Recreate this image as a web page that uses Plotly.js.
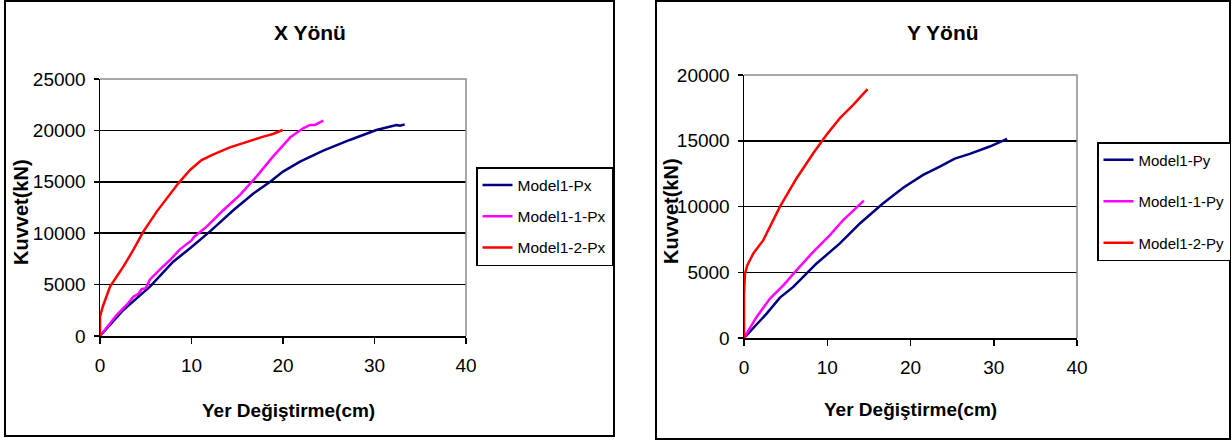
<!DOCTYPE html>
<html>
<head>
<meta charset="utf-8">
<script src="https://cdn.plot.ly/plotly-3.0.1.min.js"></script>
<style>
  html, body { margin: 0; padding: 0; background: #fff; overflow: hidden; }
  #chart { width: 1232px; height: 441px; }
</style>
</head>
<body>
<div id="chart"></div>
<script>
// Kuvvet - yer değiştirme eğrileri (X ve Y yönü)
const seriesNames = ['Model1-Px', 'Model1-1-Px', 'Model1-2-Px'];
const seriesNamesY = ['Model1-Py', 'Model1-1-Py', 'Model1-2-Py'];
const seriesColors = ['#000080', '#FF00FF', '#FF0000'];

// X yönü
const pxDisp = [0, 2.55, 5.46, 8.0, 9.84, 12.0, 14.6, 16.8, 18.6, 20.0, 21.86, 24.4, 27.3, 30.2, 32.4, 32.8, 33.3];
const pxForce = [0, 2530, 4800, 7230, 8530, 10150, 12260, 13880, 15010, 15990, 16960, 18030, 19070, 20040, 20530, 20450, 20590];

const px1Disp = [0, 1.82, 2.91, 3.3, 3.64, 4.2, 4.55, 5.0, 5.46, 6.56, 7.65, 8.74, 10.0, 10.3, 11.66, 13.5, 15.3, 17.1, 18.9, 20.8, 22.2, 22.95, 23.5, 24.4];
const px1Force = [0, 2040, 3020, 3500, 3830, 4100, 4570, 4650, 5510, 6490, 7390, 8430, 9300, 9660, 10640, 12260, 13720, 15500, 17450, 19330, 20200, 20530, 20530, 20950];

const px2Disp = [0, 0, 0.3, 1.1, 2.55, 3.64, 4.74, 6.2, 8.56, 9.84, 11.1, 12.4, 14.2, 16.0, 17.85, 18.9, 19.96];
const px2Force = [0, 1880, 2850, 4800, 6750, 8370, 10150, 12100, 14850, 16150, 17120, 17670, 18350, 18900, 19390, 19650, 20040];

// Y yönü
const pyDisp = [0, 2.72, 4.32, 5.92, 8.72, 11.52, 13.92, 16.72, 19.12, 21.52, 23.52, 25.32, 27.12, 29.52, 31.6];
const pyForce = [0, 1850, 3070, 3890, 5670, 7190, 8710, 10240, 11430, 12400, 13030, 13640, 14000, 14560, 15140];

const py1Disp = [0, 1.52, 3.12, 4.72, 6.32, 8.32, 10.32, 11.92, 14.4];
const py1Force = [0, 1600, 3000, 4010, 5160, 6550, 7820, 8970, 10440];

const py2Disp = [0, 0, 0.12, 0.4, 1.12, 2.32, 4.32, 6.32, 8.32, 9.92, 11.52, 13.12, 14.84];
const py2Force = [0, 3380, 4900, 5540, 6430, 7440, 9990, 12150, 14050, 15450, 16720, 17730, 18930];

const xTicks = [0, 10, 20, 30, 40];
const yTicksX = [0, 5000, 10000, 15000, 20000, 25000];
const yTicksY = [0, 5000, 10000, 15000, 20000];

const W = 1232, H = 441;
const px = v => v / W;          // pixel -> paper x
const py = v => 1 - v / H;      // pixel -> paper y

const FONT = '"Liberation Sans", Arial, sans-serif';

function line(x, y, i, names, xa, ya, legend) {
  return {
    type: 'scatter', mode: 'lines', x: x, y: y,
    name: names[i], xaxis: xa, yaxis: ya, legend: legend,
    legendgroup: legend + i,
    line: { color: seriesColors[i], width: 2.5 }
  };
}

const traces = [
  line(pxDisp, pxForce, 0, seriesNames, 'x', 'y', 'legend'),
  line(px1Disp, px1Force, 1, seriesNames, 'x', 'y', 'legend'),
  line(px2Disp, px2Force, 2, seriesNames, 'x', 'y', 'legend'),
  line(pyDisp, pyForce, 0, seriesNamesY, 'x2', 'y2', 'legend2'),
  line(py1Disp, py1Force, 1, seriesNamesY, 'x2', 'y2', 'legend2'),
  line(py2Disp, py2Force, 2, seriesNamesY, 'x2', 'y2', 'legend2')
];

// plot areas in pixels
const L = { x0: 100, x1: 466, y0: 336, y1: 79 };
const R = { x0: 744, x1: 1077, y0: 338, y1: 75 };

function xAxis(box, anchor) {
  return {
    domain: [px(box.x0), px(box.x1)], anchor: anchor,
    range: [0, 40], tickvals: xTicks, ticktext: xTicks.map(String),
    showgrid: false, zeroline: false,
    showline: true, linecolor: '#000', linewidth: 1.5,
    ticks: 'outside', ticklen: 6, tickcolor: '#000', tickwidth: 1.5,
    ticklabelstandoff: 6,
    tickfont: { family: FONT, size: 19, color: '#000' }
  };
}
function yAxis(box, anchor, maxV, vals) {
  return {
    domain: [py(box.y0), py(box.y1)], anchor: anchor,
    range: [0, maxV], tickvals: vals, ticktext: vals.map(String),
    showgrid: true, gridcolor: '#000', gridwidth: 1.5,
    zeroline: false,
    showline: true, linecolor: '#000', linewidth: 1.5,
    ticks: 'outside', ticklen: 5, tickcolor: '#000', tickwidth: 1.5,
    ticklabelstandoff: 4,
    tickfont: { family: FONT, size: 19, color: '#000' }
  };
}

function frame(box) {
  // grey top and right edges of the plot area
  return {
    type: 'path', xref: 'paper', yref: 'paper', layer: 'above',
    path: `M${px(box.x0)},${py(box.y1)} L${px(box.x1)},${py(box.y1)} L${px(box.x1)},${py(box.y0)}`,
    line: { color: '#8c8c8c', width: 1.5 }
  };
}
function panel(x0, y0, x1, y1) {
  return {
    type: 'rect', xref: 'paper', yref: 'paper', layer: 'above',
    x0: px(x0), x1: px(x1), y0: py(y1), y1: py(y0),
    line: { color: '#000', width: 2 }, fillcolor: 'rgba(0,0,0,0)'
  };
}

function text(t, x, y, size, bold, angle) {
  return {
    xref: 'paper', yref: 'paper', x: px(x), y: py(y),
    xanchor: 'center', yanchor: 'middle', showarrow: false,
    text: bold ? '<b>' + t + '</b>' : t, textangle: angle || 0,
    font: { family: FONT, size: size, color: '#000' }
  };
}

const layout = {
  width: W, height: H,
  margin: { l: 0, r: 0, t: 0, b: 0 },
  paper_bgcolor: '#fff', plot_bgcolor: '#fff',
  xaxis: xAxis(L, 'y'),
  yaxis: yAxis(L, 'x', 25000, yTicksX),
  xaxis2: xAxis(R, 'y2'),
  yaxis2: yAxis(R, 'x2', 20000, yTicksY),
  showlegend: true,
  legend: {
    x: px(476), y: py(167), xanchor: 'left', yanchor: 'top',
    bgcolor: '#fff', bordercolor: '#000', borderwidth: 1.5,
    traceorder: 'grouped', tracegroupgap: 8,
    font: { family: FONT, size: 15.5, color: '#000' }
  },
  legend2: {
    x: px(1097), y: py(142), xanchor: 'left', yanchor: 'top',
    bgcolor: '#fff', bordercolor: '#000', borderwidth: 1.5,
    traceorder: 'grouped', tracegroupgap: 19,
    font: { family: FONT, size: 15, color: '#000' }
  },
  shapes: [frame(L), frame(R), panel(5, 1, 614, 436), panel(656, 1, 1230, 439)],
  annotations: [
    text('X Yönü', 310, 32, 21, true),
    text('Y Yönü', 943, 32, 21, true),
    text('Kuvvet(kN)', 21, 212, 20, true, -90),
    text('Kuvvet(kN)', 671, 211, 20, true, -90),
    text('Yer Değiştirme(cm)', 288, 410, 19, true),
    text('Yer Değiştirme(cm)', 910, 409, 19, true)
  ]
};

Plotly.newPlot('chart', traces, layout, { displayModeBar: false, staticPlot: true });
</script>
</body>
</html>
